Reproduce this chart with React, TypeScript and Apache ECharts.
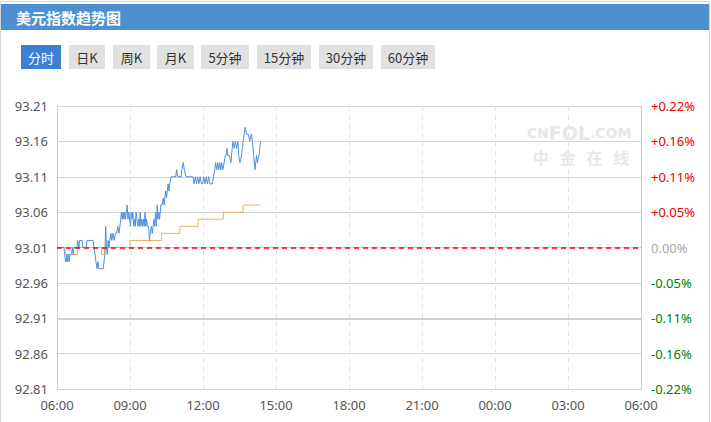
import React, { useEffect, useRef } from "react";
import * as echarts from "echarts";

// ---------- data ----------
const basePrice = 93.01;
const timeLabels = ["06:00", "09:00", "12:00", "15:00", "18:00", "21:00", "00:00", "03:00", "06:00"];
const priceLabels = ["92.81", "92.86", "92.91", "92.96", "93.01", "93.06", "93.11", "93.16", "93.21"];
const pctLabels = ["-0.22%", "-0.16%", "-0.11%", "-0.05%", "0.00%", "+0.05%", "+0.11%", "+0.16%", "+0.22%"];
const tabLabels = ["分时", "日K", "周K", "月K", "5分钟", "15分钟", "30分钟", "60分钟"];

const priceTimes = [
  "06:00", "06:17", "06:19", "06:21", "06:23", "06:24", "06:26", "06:28", "06:30", "06:32",
  "06:36", "06:38", "06:40", "06:42", "06:49", "06:51", "06:54", "06:56", "07:02", "07:04",
  "07:12", "07:14", "07:29", "07:31", "07:34", "07:36", "07:39", "07:41", "07:43", "07:54",
  "07:56", "07:58", "08:00", "08:02", "08:04", "08:06", "08:08", "08:10", "08:13", "08:15",
  "08:18", "08:21", "08:24", "08:27", "08:30", "08:33", "08:35", "08:37", "08:39", "08:41",
  "08:43", "08:45", "08:47", "08:49", "08:51", "08:53", "08:55", "08:57", "08:59", "09:01",
  "09:03", "09:05", "09:07", "09:09", "09:11", "09:13", "09:15", "09:17", "09:19", "09:21",
  "09:23", "09:25", "09:27", "09:29", "09:31", "09:33", "09:35", "09:37", "09:39", "09:41",
  "09:43", "09:46", "09:48", "09:50", "09:53", "09:55", "09:57", "09:59", "10:01", "10:03",
  "10:05", "10:07", "10:09", "10:11", "10:13", "10:16", "10:19", "10:22", "10:24", "10:26",
  "10:28", "10:30", "10:32", "10:34", "10:36", "10:38", "10:41", "10:44", "10:53", "10:55",
  "10:58", "11:06", "11:08", "11:11", "11:14", "11:18", "11:35", "11:38", "11:41", "11:44",
  "11:47", "11:50", "11:53", "11:56", "11:59", "12:02", "12:05", "12:08", "12:11", "12:14",
  "12:17", "12:23", "12:26", "12:29", "12:31", "12:34", "12:36", "12:39", "12:41", "12:44",
  "12:46", "12:49", "12:52", "12:55", "12:57", "12:59", "13:01", "13:05", "13:09", "13:12",
  "13:14", "13:17", "13:20", "13:23", "13:26", "13:28", "13:31", "13:35", "13:39", "13:44",
  "13:48", "13:52", "13:55", "13:59", "14:02", "14:05", "14:08", "14:10", "14:12", "14:14",
  "14:18", "14:22",
];
const priceValues = [
  93.01, 93.01, 93.0, 92.99, 92.99, 93.0, 92.99, 93.0, 92.99, 93.0,
  93.0, 93.01, 93.0, 93.01, 93.01, 93.02, 93.01, 93.02, 93.02, 93.01,
  93.01, 93.02, 93.02, 93.01, 93.0, 92.99, 92.98, 92.99, 92.98, 92.98,
  92.99, 93.0, 93.04, 93.01, 93.0, 93.02, 93.01, 93.02, 93.03, 93.02,
  93.03, 93.02, 93.03, 93.03, 93.04, 93.03, 93.04, 93.05, 93.06, 93.05,
  93.06, 93.05, 93.06, 93.05, 93.06, 93.07, 93.05, 93.06, 93.05, 93.04,
  93.06, 93.05, 93.06, 93.04, 93.05, 93.04, 93.06, 93.05, 93.04, 93.05,
  93.04, 93.06, 93.04, 93.05, 93.04, 93.05, 93.04, 93.06, 93.04, 93.05,
  93.04, 93.04, 93.02, 93.03, 93.04, 93.03, 93.04, 93.05, 93.04, 93.06,
  93.04, 93.07, 93.05, 93.06, 93.05, 93.07, 93.07, 93.08, 93.07, 93.08,
  93.09, 93.08, 93.09, 93.1, 93.09, 93.1, 93.11, 93.11, 93.11, 93.12,
  93.11, 93.11, 93.12, 93.13, 93.12, 93.11, 93.11, 93.1, 93.11, 93.1,
  93.11, 93.1, 93.11, 93.1, 93.1, 93.11, 93.1, 93.11, 93.1, 93.11,
  93.1, 93.1, 93.11, 93.12, 93.13, 93.12, 93.13, 93.12, 93.13, 93.12,
  93.13, 93.12, 93.13, 93.14, 93.14, 93.15, 93.14, 93.14, 93.13, 93.15,
  93.16, 93.15, 93.16, 93.15, 93.16, 93.14, 93.13, 93.14, 93.16, 93.18,
  93.17, 93.17, 93.16, 93.17, 93.16, 93.14, 93.12, 93.13, 93.14, 93.13,
  93.14, 93.16,
];

const avgTimes = ["06:00", "06:20", "06:50", "07:50", "07:58", "09:00", "10:18", "11:03", "11:48", "12:50", "13:39", "14:22"];
const avgValues = [93.01, 93.0, 93.01, 93.0, 93.01, 93.02, 93.03, 93.04, 93.05, 93.06, 93.07, 93.07];

// ---------- helpers ----------
const toMin = (t: string) => {
  const [h, m] = t.split(":").map(Number);
  let v = h * 60 + m - 360;
  if (v < 0) v += 1440;
  return v;
};
const toOffset = (p: number) => Math.round((p - basePrice) * 1000) / 10; // hundredths
const idx = (v: number) => Math.round((v + 20) / 5);

const NUM_FONT = "'Noto Sans', 'Noto Sans CJK SC', sans-serif";
const CJK_FONT = "'Noto Sans CJK SC', sans-serif";

export default function App() {
  const ref = useRef<HTMLDivElement>(null);
  useEffect(() => {
    if (!ref.current) return;
    const chart = echarts.init(ref.current, null, { renderer: "svg" });

    const tabX = [21, 69, 113, 157, 201, 257, 319, 381];
    const tabW = [40, 36, 37, 37, 48, 54, 54, 54];
    const tabs: any[] = tabLabels.map((label, i) => ({
      type: "group",
      x: tabX[i],
      y: 45,
      children: [
        {
          type: "rect",
          shape: { x: 0, y: 0, width: tabW[i], height: 24 },
          style: { fill: i === 0 ? "#3a80d4" : "#e1e1e1" },
        },
        {
          type: "text",
          x: tabW[i] / 2,
          y: 12,
          style: {
            text: label,
            fill: i === 0 ? "#ffffff" : "#333333",
            font: `13px ${CJK_FONT}`,
            align: "center",
            verticalAlign: "middle",
          },
        },
      ],
    }));

    const option: any = {
      animation: false,
      backgroundColor: "#ffffff",
      graphic: [
        {
          type: "rect",
          shape: { x: 0.5, y: 1.5, width: 709, height: 440 },
          style: { fill: "none", stroke: "#d4d4d4", lineWidth: 1 },
          z: 0,
        },
        {
          type: "rect",
          shape: { x: 1, y: 4, width: 708, height: 26 },
          style: { fill: "#4e8fd0" },
        },
        {
          type: "text",
          x: 16,
          y: 17,
          style: {
            text: "美元指数趋势图",
            fill: "#ffffff",
            font: `bold 15px ${CJK_FONT}`,
            verticalAlign: "middle",
          },
        },
        ...tabs,
        {
          type: "text",
          x: 579,
          y: 133,
          z: 1,
          style: {
            text: "{a|CN}{b|FOL}{a|.COM}",
            align: "center",
            verticalAlign: "middle",
            rich: {
              a: { fill: "#e8e8e8", font: `bold 14px 'DejaVu Sans', sans-serif` },
              b: { fill: "#e8e8e8", font: `bold 19px 'DejaVu Sans', sans-serif` },
            },
          },
        },
        {
          type: "text",
          x: 581,
          y: 157,
          z: 1,
          style: {
            text: "中   金   在   线",
            fill: "#e8e8e8",
            font: `bold 16px ${CJK_FONT}`,
            align: "center",
            verticalAlign: "middle",
          },
        },
      ],
      grid: { left: 57, right: 70, top: 106, bottom: 33, containLabel: false },
      xAxis: {
        type: "value",
        min: 0,
        max: 1440,
        interval: 180,
        axisLine: { show: true, lineStyle: { color: "#cccccc", width: 1 } },
        axisTick: { show: false },
        axisLabel: {
          margin: 9,
          color: "#555555",
          fontSize: 13,
          fontFamily: NUM_FONT,
          formatter: (v: number) => timeLabels[Math.round(v / 180)],
        },
        splitLine: { show: true, lineStyle: { color: "#e6e6e6", type: [5, 4], width: 1 } },
      },
      yAxis: [
        {
          type: "value",
          position: "left",
          min: -20,
          max: 20,
          interval: 5,
          axisLine: { show: true, lineStyle: { color: "#cccccc", width: 1 } },
          axisTick: { show: false },
          axisLabel: {
            margin: 9,
            color: "#555555",
            fontSize: 13,
            fontFamily: NUM_FONT,
            formatter: (v: number) => priceLabels[idx(v)],
          },
          splitLine: { show: true, lineStyle: { color: "#d6d6d6", width: 1 } },
        },
        {
          type: "value",
          position: "right",
          min: -20,
          max: 20,
          interval: 5,
          axisLine: { show: true, lineStyle: { color: "#cccccc", width: 1 } },
          axisTick: { show: false },
          axisLabel: {
            margin: 10,
            fontSize: 13,
            fontFamily: NUM_FONT,
            formatter: (v: number) => pctLabels[idx(v)],
            color: (v: any) => {
              const n = Number(v);
              return n > 0 ? "#ee0000" : n < 0 ? "#008000" : "#aaaaaa";
            },
          },
          splitLine: { show: false },
        },
      ],
      series: [
        {
          name: "均价",
          type: "line",
          step: "end",
          showSymbol: false,
          silent: true,
          z: 3,
          lineStyle: { color: "#e9b45a", width: 1 },
          itemStyle: { color: "#e9b45a" },
          data: avgTimes.map((t, i) => [toMin(t), toOffset(avgValues[i])]),
        },
        {
          name: "美元指数",
          type: "line",
          showSymbol: false,
          silent: true,
          z: 4,
          lineStyle: { color: "#4f8fdc", width: 1 },
          itemStyle: { color: "#4f8fdc" },
          data: priceTimes.map((t, i) => [toMin(t), toOffset(priceValues[i])]),
          markLine: {
            silent: true,
            symbol: "none",
            label: { show: false },
            data: [
              { yAxis: 0, lineStyle: { color: "#ff0000", type: [5, 4], width: 1.5 } },
              { yAxis: -10, lineStyle: { color: "#d0d0d0", type: "solid", width: 2 } },
            ],
          },
        },
      ],
    };
    chart.setOption(option);
    return () => chart.dispose();
  }, []);
  return (
    <div
      ref={ref}
      style={{ position: "fixed", left: 0, top: 0, width: 711, height: 422, background: "#fff" }}
    />
  );
}
